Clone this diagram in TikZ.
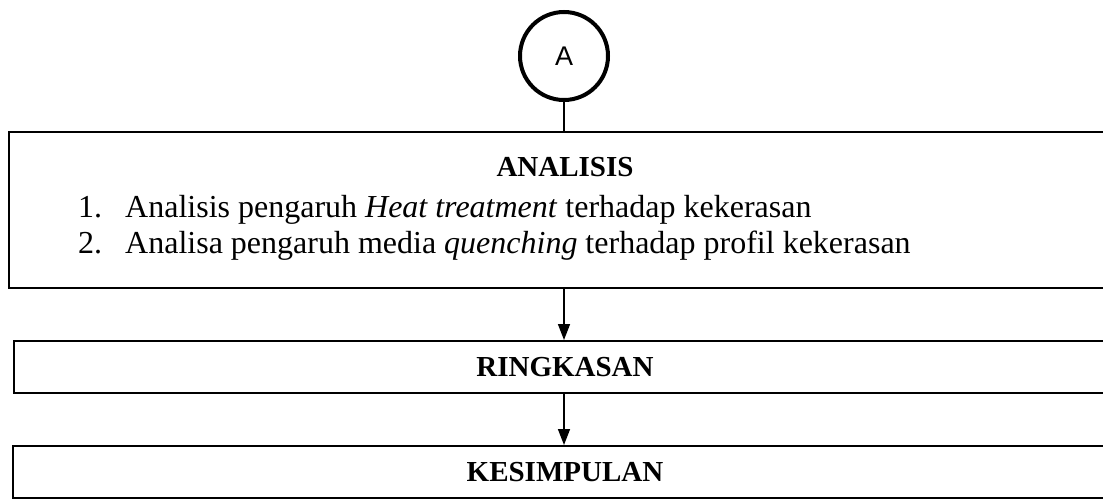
\documentclass[tikz,border=0pt]{standalone}
\usepackage{fontspec}
\setmainfont{Liberation Serif}
\newfontfamily\arialfont{Liberation Sans}
\usetikzlibrary{arrows.meta}
\begin{document}
\begin{tikzpicture}[x=1pt,y=-1pt,
  box/.style={draw, line width=2pt, rectangle, inner sep=0pt, anchor=north west},
  conn/.style={line width=1.5pt},
  arr/.style={conn, -{Triangle[length=16pt,width=12pt]}},
  body/.style={font=\fontsize{32}{37}\selectfont, inner sep=0pt},
  head/.style={font=\bfseries\fontsize{29}{34}\selectfont, inner sep=0pt, anchor=base},
  ]
\useasboundingbox (0,0) rectangle (1103,498);
\clip (0,0) rectangle (1103,498);
\fill[white] (0,0) rectangle (1103,498);
\node[box, minimum width=1110pt, minimum height=156pt] (analisis) at (8,131) {};
\node[box, minimum width=1100pt, minimum height=52pt] (ringkasan) at (13,340) {};
\node[box, minimum width=1100pt, minimum height=52pt] (kesimpulan) at (12,445) {};
\node[circle, draw, line width=4pt, minimum size=88pt, inner sep=0pt,
      font=\arialfont\fontsize{27}{31}\selectfont] (a) at (564,56) {A};
\node[head] (t0) at (565,176) {ANALISIS};
\node[body, anchor=base west] (n1) at (78,217) {1.};
\node[body, anchor=base west] (l1) at (125,217) {Analisis pengaruh \textit{Heat treatment} terhadap kekerasan};
\node[body, anchor=base west] (n2) at (78,253) {2.};
\node[body, anchor=base west] (l2) at (125,253) {Analisa pengaruh media \textit{quenching} terhadap profil kekerasan};
\node[head] (t1) at (565,376) {RINGKASAN};
\node[head] (t2) at (565,481) {KESIMPULAN};
\draw[conn] (a.south) -- (a.south |- analisis.north);
\draw[arr] (analisis.south -| a) -- (ringkasan.north -| a);
\draw[arr] (ringkasan.south -| a) -- (kesimpulan.north -| a);
\end{tikzpicture}
\end{document}
